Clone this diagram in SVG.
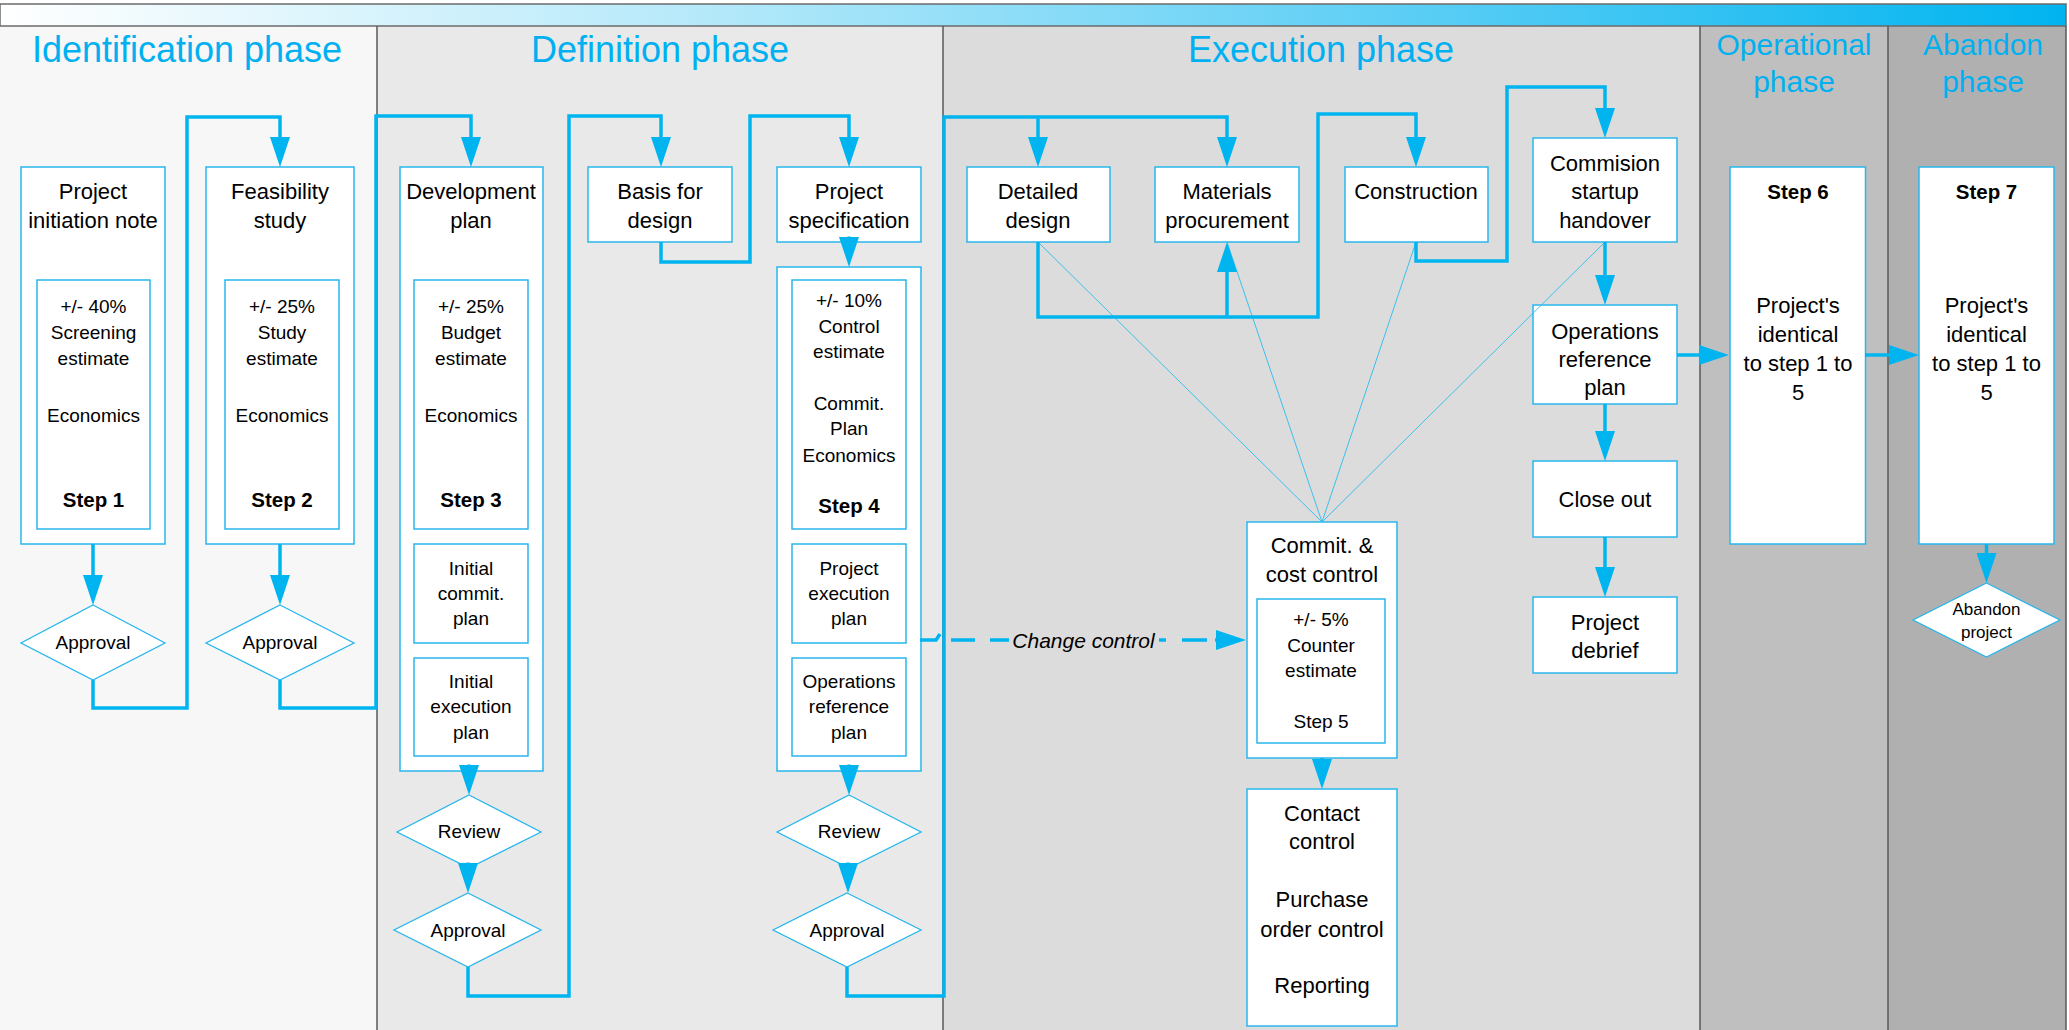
<svg xmlns="http://www.w3.org/2000/svg" width="2069" height="1030" viewBox="0 0 2069 1030">
<defs>
<linearGradient id="barGrad" x1="0" y1="0" x2="1" y2="0">
<stop offset="0" stop-color="#FFFFFF"/>
<stop offset="0.34" stop-color="#B5E9FA"/>
<stop offset="0.67" stop-color="#5FCFF5"/>
<stop offset="1" stop-color="#00B4F0"/>
</linearGradient>
<marker id="ah" viewBox="0 0 30 20" refX="0" refY="10" markerWidth="30" markerHeight="20" markerUnits="userSpaceOnUse" orient="auto">
<path d="M0,0 L30,10 L0,20 z" fill="#00B4F0"/>
</marker>
<style>
.t{font-family:"Liberation Sans",Arial,sans-serif;fill:#000;text-anchor:middle}
.ti{font-size:22px}
.in{font-size:19px}
.b{font-size:20.5px;font-weight:bold}
.sm{font-size:17px}
.ph{font-family:"Liberation Sans",Arial,sans-serif;fill:#00B0F0;text-anchor:middle}
.box{fill:#FFFFFF;stroke:#29B6EC;stroke-width:1.5}
.dia{fill:#FFFFFF;stroke:#29B6EC;stroke-width:1.3}
.con{fill:none;stroke:#00B4F0;stroke-width:3.5;stroke-linejoin:miter}
.arr{marker-end:url(#ah)}
.thin{fill:none;stroke:#3CC0EE;stroke-width:1}
.div{stroke:#595959;stroke-width:1.5}
</style>
</defs>
<rect x="0" y="0" width="2069" height="1030" fill="#FFFFFF"/>
<g id="background">
<rect x="0" y="26" width="377" height="1004" fill="#F7F7F7"/>
<rect x="377" y="26" width="566" height="1004" fill="#E9E9E9"/>
<rect x="943" y="26" width="757" height="1004" fill="#DCDCDC"/>
<rect x="1700" y="26" width="188" height="1004" fill="#BFBFBF"/>
<rect x="1888" y="26" width="178" height="1004" fill="#B0B0B0"/>
<rect x="0" y="4" width="2066" height="22" fill="url(#barGrad)" stroke="#6B6B6B" stroke-width="1.5"/>
<line class="div" x1="377" y1="26" x2="377" y2="1030"/>
<line class="div" x1="943" y1="26" x2="943" y2="1030"/>
<line class="div" x1="1700" y1="26" x2="1700" y2="1030"/>
<line class="div" x1="1888" y1="26" x2="1888" y2="1030"/>
<line class="div" x1="2066" y1="26" x2="2066" y2="1030"/>
<text class="ph" x="187" y="62" font-size="36">Identification phase</text>
<text class="ph" x="660" y="62" font-size="36">Definition phase</text>
<text class="ph" x="1321" y="62" font-size="36">Execution phase</text>
<text class="ph" x="1794" y="55" font-size="30">Operational</text>
<text class="ph" x="1794" y="92" font-size="30">phase</text>
<text class="ph" x="1983" y="55" font-size="30">Abandon</text>
<text class="ph" x="1983" y="92" font-size="30">phase</text>
</g>
<g id="step1">
<rect class="box" x="21" y="167" width="144" height="377"/>
<text class="t ti" x="93" y="199">Project</text>
<text class="t ti" x="93" y="228">initiation note</text>
<rect class="box" x="37" y="280" width="113" height="249"/>
<text class="t in" x="93.5" y="313">+/- 40%</text>
<text class="t in" x="93.5" y="339">Screening</text>
<text class="t in" x="93.5" y="365">estimate</text>
<text class="t in" x="93.5" y="422">Economics</text>
<text class="t b" x="93.5" y="507">Step 1</text>
</g>
<g id="approval1">
<polygon class="dia" points="93,605 165,643 93,680 21,643"/>
<text class="t in" x="93" y="649">Approval</text>
</g>
<g id="step2">
<rect class="box" x="206" y="167" width="148" height="377"/>
<text class="t ti" x="280" y="199">Feasibility</text>
<text class="t ti" x="280" y="228">study</text>
<rect class="box" x="225" y="280" width="114" height="249"/>
<text class="t in" x="282" y="313">+/- 25%</text>
<text class="t in" x="282" y="339">Study</text>
<text class="t in" x="282" y="365">estimate</text>
<text class="t in" x="282" y="422">Economics</text>
<text class="t b" x="282" y="507">Step 2</text>
</g>
<g id="approval2">
<polygon class="dia" points="280,605 354,643 280,680 206,643"/>
<text class="t in" x="280" y="649">Approval</text>
</g>
<g id="step3">
<rect class="box" x="400" y="167" width="143" height="604"/>
<text class="t ti" x="471" y="199">Development</text>
<text class="t ti" x="471" y="228">plan</text>
<rect class="box" x="414" y="280" width="114" height="249"/>
<text class="t in" x="471" y="313">+/- 25%</text>
<text class="t in" x="471" y="339">Budget</text>
<text class="t in" x="471" y="365">estimate</text>
<text class="t in" x="471" y="422">Economics</text>
<text class="t b" x="471" y="507">Step 3</text>
<rect class="box" x="414" y="544" width="114" height="99"/>
<text class="t in" x="471" y="575">Initial</text>
<text class="t in" x="471" y="600">commit.</text>
<text class="t in" x="471" y="625">plan</text>
<rect class="box" x="414" y="658" width="114" height="98"/>
<text class="t in" x="471" y="688">Initial</text>
<text class="t in" x="471" y="713">execution</text>
<text class="t in" x="471" y="739">plan</text>
</g>
<g id="review3">
<polygon class="dia" points="469,795 541,832 469,868 397,832"/>
<text class="t in" x="469" y="838">Review</text>
</g>
<g id="approval3">
<polygon class="dia" points="468,893 541,930 468,967 394,930"/>
<text class="t in" x="468" y="937">Approval</text>
</g>
<g id="basis">
<rect class="box" x="588" y="167" width="144" height="75"/>
<text class="t ti" x="660" y="199">Basis for</text>
<text class="t ti" x="660" y="228">design</text>
</g>
<g id="spec">
<rect class="box" x="777" y="167" width="144" height="75"/>
<text class="t ti" x="849" y="199">Project</text>
<text class="t ti" x="849" y="228">specification</text>
</g>
<g id="step4">
<rect class="box" x="777" y="267" width="144" height="504"/>
<rect class="box" x="792" y="280" width="114" height="249"/>
<text class="t in" x="849" y="307">+/- 10%</text>
<text class="t in" x="849" y="333">Control</text>
<text class="t in" x="849" y="358">estimate</text>
<text class="t in" x="849" y="410">Commit.</text>
<text class="t in" x="849" y="435">Plan</text>
<text class="t in" x="849" y="462">Economics</text>
<text class="t b" x="849" y="513">Step 4</text>
<rect class="box" x="792" y="544" width="114" height="99"/>
<text class="t in" x="849" y="575">Project</text>
<text class="t in" x="849" y="600">execution</text>
<text class="t in" x="849" y="625">plan</text>
<rect class="box" x="792" y="658" width="114" height="98"/>
<text class="t in" x="849" y="688">Operations</text>
<text class="t in" x="849" y="713">reference</text>
<text class="t in" x="849" y="739">plan</text>
</g>
<g id="review4">
<polygon class="dia" points="849,795 921,832 849,868 777,832"/>
<text class="t in" x="849" y="838">Review</text>
</g>
<g id="approval4">
<polygon class="dia" points="847,893 921,930 847,967 773,930"/>
<text class="t in" x="847" y="937">Approval</text>
</g>
<g id="detailed">
<rect class="box" x="967" y="167" width="143" height="75"/>
<text class="t ti" x="1038" y="199">Detailed</text>
<text class="t ti" x="1038" y="228">design</text>
</g>
<g id="materials">
<rect class="box" x="1155" y="167" width="144" height="75"/>
<text class="t ti" x="1227" y="199">Materials</text>
<text class="t ti" x="1227" y="228">procurement</text>
</g>
<g id="construction">
<rect class="box" x="1345" y="167" width="143" height="75"/>
<text class="t ti" x="1416" y="199">Construction</text>
</g>
<g id="commision">
<rect class="box" x="1533" y="138" width="144" height="104"/>
<text class="t ti" x="1605" y="171">Commision</text>
<text class="t ti" x="1605" y="199">startup</text>
<text class="t ti" x="1605" y="228">handover</text>
</g>
<g id="opsref">
<rect class="box" x="1533" y="305" width="144" height="99"/>
<text class="t ti" x="1605" y="339">Operations</text>
<text class="t ti" x="1605" y="367">reference</text>
<text class="t ti" x="1605" y="395">plan</text>
</g>
<g id="closeout">
<rect class="box" x="1533" y="461" width="144" height="76"/>
<text class="t ti" x="1605" y="507">Close out</text>
</g>
<g id="debrief">
<rect class="box" x="1533" y="597" width="144" height="76"/>
<text class="t ti" x="1605" y="630">Project</text>
<text class="t ti" x="1605" y="658">debrief</text>
</g>
<g id="step5">
<rect class="box" x="1247" y="522" width="150" height="236"/>
<text class="t ti" x="1322" y="553">Commit. &amp;</text>
<text class="t ti" x="1322" y="582">cost control</text>
<rect class="box" x="1257" y="599" width="128" height="144"/>
<text class="t in" x="1321" y="626">+/- 5%</text>
<text class="t in" x="1321" y="652">Counter</text>
<text class="t in" x="1321" y="677">estimate</text>
<text class="t in" x="1321" y="728">Step 5</text>
</g>
<g id="contact">
<rect class="box" x="1247" y="789" width="150" height="237"/>
<text class="t ti" x="1322" y="821">Contact</text>
<text class="t ti" x="1322" y="849">control</text>
<text class="t ti" x="1322" y="907">Purchase</text>
<text class="t ti" x="1322" y="937">order control</text>
<text class="t ti" x="1322" y="993">Reporting</text>
</g>
<g id="step6">
<rect class="box" x="1730" y="167" width="135.5" height="377"/>
<text class="t b" x="1798" y="199">Step 6</text>
<text class="t ti" x="1798" y="313">Project's</text>
<text class="t ti" x="1798" y="342">identical</text>
<text class="t ti" x="1798" y="371">to step 1 to</text>
<text class="t ti" x="1798" y="400">5</text>
</g>
<g id="step7">
<rect class="box" x="1919" y="167" width="135" height="377"/>
<text class="t b" x="1986.5" y="199">Step 7</text>
<text class="t ti" x="1986.5" y="313">Project's</text>
<text class="t ti" x="1986.5" y="342">identical</text>
<text class="t ti" x="1986.5" y="371">to step 1 to</text>
<text class="t ti" x="1986.5" y="400">5</text>
</g>
<g id="abandon">
<polygon class="dia" points="1986.5,583 2060,620 1986.5,657 1913,620"/>
<text class="t sm" x="1986.5" y="615">Abandon</text>
<text class="t sm" x="1986.5" y="638">project</text>
</g>
<g id="connectors">
<path class="thin" d="M1322,522 L1038,242 M1322,522 L1227,242 M1322,522 L1416,242 M1322,522 L1605,242"/>
<path class="con arr" d="M93,544 V575"/>
<path class="con arr" d="M280,544 V575"/>
<path class="con arr" d="M93,680 V708 H187 V117 H280 V137"/>
<path class="con arr" d="M280,680 V708 H376 V116 H471 V137"/>
<path class="con arr" d="M469,764.5 V765"/>
<path class="con arr" d="M468,862.5 V863"/>
<path class="con arr" d="M468,967 V996 H569 V116 H661 V137"/>
<path class="con arr" d="M661,242 V262 H750 V116 H849 V137"/>
<path class="con arr" d="M849,236.5 V237"/>
<path class="con arr" d="M849,764.5 V765"/>
<path class="con arr" d="M848,862.5 V863"/>
<path class="con arr" d="M847,967 V996 H944 V117 H1227 V137"/>
<path class="con arr" d="M1038,117 V137"/>
<path class="con arr" d="M1038,242 V317 H1318 V114 H1416 V137"/>
<path class="con arr" d="M1227,317 V272"/>
<path class="con arr" d="M1416,242 V261 H1507 V87 H1605 V108"/>
<path class="con arr" d="M1605,242 V275"/>
<path class="con arr" d="M1605,404 V431"/>
<path class="con arr" d="M1605,537 V567"/>
<path class="con arr" d="M1677,355 H1699"/>
<path class="con arr" d="M1865,355 H1889"/>
<path class="con arr" d="M1986.5,544 V553"/>
<path class="con arr" d="M1322,758 V759"/>
<path class="con" d="M920,640 H936 L940,634"/>
<path class="con" d="M951,640 H975 M990,640 H1009 M1159,640 H1166 M1182,640 H1207"/>
<path class="con arr" d="M1215,640 H1216"/>
<text class="t" x="1083.5" y="648" font-size="21" font-style="italic">Change control</text>
</g>
</svg>
